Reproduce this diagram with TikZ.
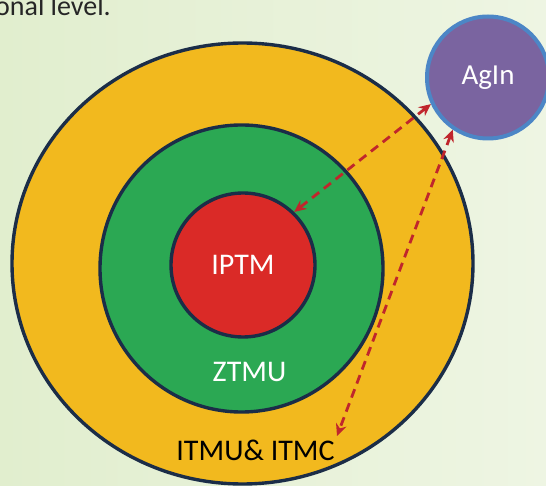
\documentclass[tikz,border=0pt]{standalone}
\usepackage{fontspec}
\setmainfont{Carlito}
\usetikzlibrary{shapes.geometric,arrows.meta}
\definecolor{bgL}{HTML}{E1EECE}
\definecolor{bgR}{HTML}{EEF5E3}
\definecolor{ringY}{HTML}{F2B91E}
\definecolor{ringG}{HTML}{2BA853}
\definecolor{ringR}{HTML}{DA2A27}
\definecolor{rimC}{HTML}{1B2D48}
\definecolor{agP}{HTML}{7A64A0}
\definecolor{agB}{HTML}{4C86C6}
\definecolor{arrC}{HTML}{C0262C}
\definecolor{topT}{HTML}{262626}
\tikzset{
  ring/.style={ellipse, draw=rimC, line width=3.4pt, inner sep=0pt},
  lbl/.style={font=\fontsize{30}{30}\selectfont, inner sep=0pt},
  arr/.style={draw=arrC, line width=2.8pt, dash pattern=on 9pt off 6pt,
     {Stealth[length=12pt,width=11pt]}-{Stealth[length=12pt,width=11pt]}}
}
\begin{document}
\begin{tikzpicture}[x=1pt,y=-1pt]
\useasboundingbox (0,0) rectangle (546,486);
\shade[left color=bgL, right color=bgR] (0,0) rectangle (546,486);
\node[anchor=base east, text=topT, font=\fontsize{28}{28}\selectfont, inner sep=0pt] (top) at (111,16) {onal level.};
\node[ring, fill=ringY, minimum width=461pt, minimum height=441pt] (outer) at (242.5,263.5) {};
\node[ring, fill=ringG, minimum width=283pt, minimum height=287pt] (mid) at (241.5,268.5) {};
\node[ring, fill=ringR, minimum width=144pt, minimum height=144pt, text=white, font=\fontsize{30}{30}\selectfont] (iptm) at (243,265) {IPTM};
\node[lbl, text=white, anchor=base] (ztmu) at (249.5,381) {ZTMU};
\node[lbl, text=black, anchor=base] (itmu) at (255.5,460) {ITMU\& ITMC};
\node[circle, fill=agP, draw=agB, line width=4pt, minimum size=122pt, inner sep=0pt, text=white, font=\fontsize{29}{29}\selectfont] (agin) at (488,77.5) {AgIn};
\coordinate (tipB) at (337,436);
\draw[arr] (agin.205) -- (iptm.46);
\draw[arr] (agin.236) -- (tipB);
\end{tikzpicture}
\end{document}
